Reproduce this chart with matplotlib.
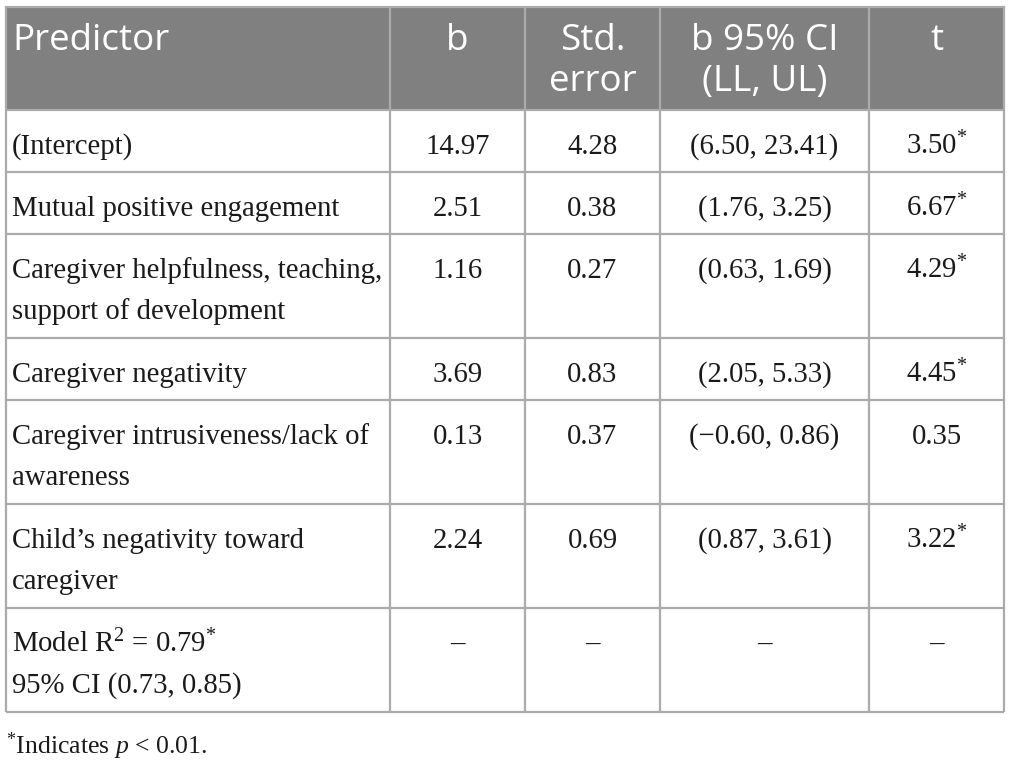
import matplotlib

matplotlib.use("Agg")

import matplotlib.pyplot as plt  # noqa: E402
from matplotlib.patches import Rectangle  # noqa: E402

plt.rcParams["mathtext.fontset"] = "custom"
plt.rcParams["mathtext.rm"] = "Liberation Serif"
plt.rcParams["mathtext.it"] = "Liberation Serif:italic"

# ── Table content ────────────────────────────────────────────────────────────
headers = [["Predictor"], ["b"], ["Std.", "error"], ["b 95% CI", "(LL, UL)"], ["t"]]
predictors = [
    ["(Intercept)"],
    ["Mutual positive engagement"],
    ["Caregiver helpfulness, teaching,", "support of development"],
    ["Caregiver negativity"],
    ["Caregiver intrusiveness/lack of", "awareness"],
    ["Child\u2019s negativity toward", "caregiver"],
    ["Model R$^{\\mathrm{2}}$ = 0.79$^{\\mathrm{*}}$", "95% CI (0.73, 0.85)"],
]
b_vals = ["14.97", "2.51", "1.16", "3.69", "0.13", "2.24", "\u2013"]
std_err = ["4.28", "0.38", "0.27", "0.83", "0.37", "0.69", "\u2013"]
ci_vals = ["(6.50, 23.41)", "(1.76, 3.25)", "(0.63, 1.69)", "(2.05, 5.33)",
           "(\u22120.60, 0.86)", "(0.87, 3.61)", "\u2013"]
t_vals = ["3.50$^{\\mathrm{*}}$", "6.67$^{\\mathrm{*}}$", "4.29$^{\\mathrm{*}}$",
          "4.45$^{\\mathrm{*}}$", "0.35", "3.22$^{\\mathrm{*}}$", "\u2013"]
footnote = "$^{\\mathrm{*}}$Indicates $p$ < 0.01."

# ── Layout (pixels) ──────────────────────────────────────────────────────────
W, H = 1013, 766
col_edges = [6, 390, 525, 660, 869, 1004]
top = 7
header_h = 103
head_base = 43      # header first baseline below table top
head_step = 41
body_base = 44      # body first baseline below row top
body_step = 41
single_row_h = 62
extra_line_h = 42
grid_color = "#ababab"
header_bg = "#808080"
ink = "#1a1a1a"

fig = plt.figure(figsize=(W / 100, H / 100), dpi=100)
ax = fig.add_axes((0, 0, 1, 1))
ax.set_xlim(0, W)
ax.set_ylim(H, 0)
ax.axis("off")

serif = "Liberation Serif"
sans = "Open Sans"
body_size = 20.7
head_size = 26.5

# header
ax.add_patch(Rectangle((col_edges[0], top), col_edges[-1] - col_edges[0], header_h,
                       facecolor=header_bg, edgecolor="none", zorder=0))
for c, lines in enumerate(headers):
    if c == 0:
        x, ha = col_edges[0] + 6, "left"
    else:
        x, ha = (col_edges[c] + col_edges[c + 1]) / 2, "center"
    for k, s in enumerate(lines):
        ax.text(x, top + head_base + k * head_step, s, ha=ha, va="baseline",
                color="white", fontsize=head_size, family=sans)

# body rows
y = top + header_h
row_lines = [y]
columns = [b_vals, std_err, ci_vals, t_vals]
for r, pred in enumerate(predictors):
    n = len(pred)
    h = single_row_h + (n - 1) * extra_line_h
    for k, s in enumerate(pred):
        ax.text(col_edges[0] + 6, y + body_base + k * body_step, s, ha="left",
                va="baseline", fontsize=body_size, family=serif, color=ink)
    for c, col in enumerate(columns):
        x = (col_edges[c + 1] + col_edges[c + 2]) / 2
        ax.text(x, y + body_base, col[r], ha="center", va="baseline",
                fontsize=body_size, family=serif, color=ink)
    y += h
    row_lines.append(y)

bottom = y
# grid lines
for yy in row_lines:
    ax.plot([col_edges[0], col_edges[-1]], [yy, yy], color=grid_color, lw=1.6,
            solid_capstyle="butt", zorder=2)
ax.plot([col_edges[0], col_edges[-1]], [top, top], color=grid_color, lw=1.6, zorder=2)
for xx in col_edges:
    ax.plot([xx, xx], [top, bottom], color=grid_color, lw=1.6,
            solid_capstyle="butt", zorder=2)

ax.text(col_edges[0], bottom + 42, footnote, ha="left", va="baseline",
        fontsize=18.5, family=serif, color=ink)

fig.savefig("out.png", dpi=100, facecolor="white")
